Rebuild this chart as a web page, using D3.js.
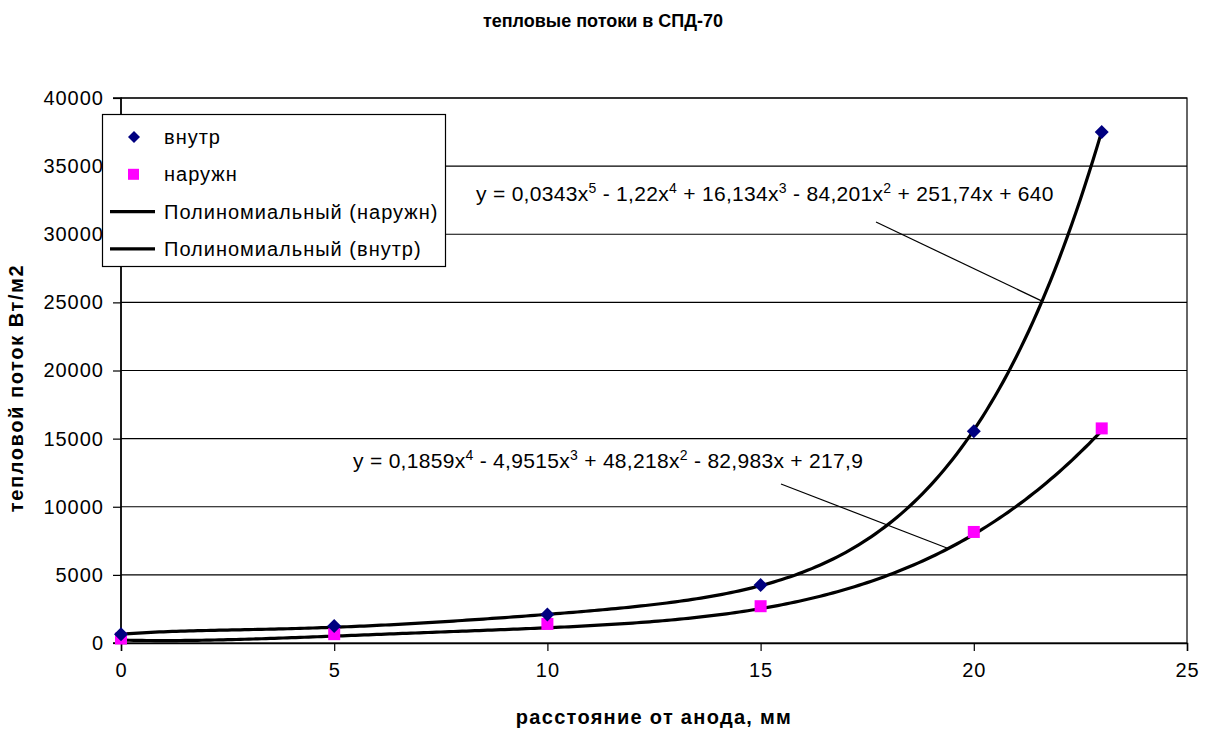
<!DOCTYPE html>
<html><head><meta charset="utf-8">
<script src="https://cdn.jsdelivr.net/npm/d3@7"></script>
<style>body{margin:0;background:#fff}svg{display:block}text{font-family:"Liberation Sans",Arial,sans-serif}</style>
</head><body><svg id="c" width="1206" height="729"></svg>
<script>
const xValues = [0, 5, 10, 15, 20, 23];
const innerValues = [650, 1250, 2100, 4250, 15550, 37500];
const outerValues = [330, 650, 1400, 2700, 8150, 15750];
const xTicks = [0, 5, 10, 15, 20, 25];
const yTicks = [0, 5000, 10000, 15000, 20000, 25000, 30000, 35000, 40000];
// trendline coefficients as shown on the chart (constant term first)
const innerCoef = [640, 251.74, -84.201, 16.134, -1.22, 0.0343];
const outerCoef = [217.9, -82.983, 48.218, -4.9515, 0.1859];
const title = "тепловые потоки в СПД-70";
const xTitle = "расстояние от анода, мм";
const yTitle = "тепловой поток Вт/м2";

const svg = d3.select("#c");
const L = 121, R = 1187, T = 98, B = 643;
const x = d3.scaleLinear().domain([0, 25]).range([L, R]);
const y = d3.scaleLinear().domain([0, 40000]).range([B, T]);

// gridlines
svg.append("g").selectAll("line").data(yTicks.filter(d => d > 0)).join("line")
  .attr("x1", L).attr("x2", R).attr("y1", d => y(d)).attr("y2", d => y(d))
  .attr("stroke", "#000").attr("stroke-width", 1.2);
svg.append("rect").attr("x", L).attr("y", T).attr("width", R - L).attr("height", B - T)
  .attr("fill", "none").attr("stroke", "#000").attr("stroke-width", 1.2);

// axes
const xAxis = svg.append("g").attr("transform", `translate(0,${B})`)
  .call(d3.axisBottom(x).tickValues(xTicks).tickSize(8).tickPadding(12).tickFormat(d3.format("d")));
const yAxis = svg.append("g").attr("transform", `translate(${L},0)`)
  .call(d3.axisLeft(y).tickValues(yTicks).tickSize(8).tickPadding(9).tickFormat(d3.format("d")));
[xAxis, yAxis].forEach(g => {
  g.select(".domain").attr("stroke", "#000").attr("stroke-width", 1.5);
  g.selectAll(".tick line").attr("stroke", "#000").attr("stroke-width", 1.2);
  g.selectAll("text").attr("font-size", 20).attr("letter-spacing", 1).attr("fill", "#000")
    .style("font-family", "'Liberation Sans', Arial, sans-serif");
});
yAxis.select(".domain").attr("d", `M-8,${T}H0V${B}H-8`);

// trendlines
function poly(c, v) { return c.reduce((s, a, i) => s + a * Math.pow(v, i), 0); }
const xs = d3.range(0, 23.001, 0.1);
const line = d3.line().x(d => x(d[0])).y(d => y(d[1]));
[innerCoef, outerCoef].forEach(c => {
  svg.append("path").attr("d", line(xs.map(v => [v, poly(c, v)])))
    .attr("fill", "none").attr("stroke", "#000").attr("stroke-width", 3.2);
});

// markers
svg.append("g").selectAll("rect").data(xValues.map((v, i) => [v, outerValues[i]])).join("rect")
  .attr("x", d => x(d[0]) - 6).attr("y", d => y(d[1]) - 6).attr("width", 12).attr("height", 12)
  .attr("fill", "#FF00FF");
svg.append("g").selectAll("path").data(xValues.map((v, i) => [v, innerValues[i]])).join("path")
  .attr("d", "M0,-7L7,0L0,7L-7,0Z")
  .attr("transform", d => `translate(${x(d[0])},${y(d[1])})`).attr("fill", "#000080");

// equations with leader lines
function eq(g, parts, xx, yy) {
  const t = g.append("text").attr("x", xx).attr("y", yy).attr("font-size", 21)
    .attr("letter-spacing", 0.3).attr("fill", "#000");
  parts.forEach(p => {
    if (p.sup) t.append("tspan").attr("dy", -8).attr("font-size", 14).text(p.sup);
    else t.append("tspan").attr("dy", p.after ? 8 : 0).text(p.t);
  });
}
const eqG = svg.append("g");
eqG.append("line").attr("x1", 876).attr("y1", 222).attr("x2", x(21.6)).attr("y2", y(poly(innerCoef, 21.6)))
  .attr("stroke", "#000").attr("stroke-width", 1.2);
eqG.append("line").attr("x1", 781).attr("y1", 484).attr("x2", x(19.4)).attr("y2", y(poly(outerCoef, 19.4)))
  .attr("stroke", "#000").attr("stroke-width", 1.2);
eq(eqG, [{t: "y = 0,0343x"}, {sup: "5"}, {t: " - 1,22x", after: 1}, {sup: "4"}, {t: " + 16,134x", after: 1}, {sup: "3"},
  {t: " - 84,201x", after: 1}, {sup: "2"}, {t: " + 251,74x + 640", after: 1}], 476, 201);
eq(eqG, [{t: "y = 0,1859x"}, {sup: "4"}, {t: " - 4,9515x", after: 1}, {sup: "3"}, {t: " + 48,218x", after: 1}, {sup: "2"},
  {t: " - 82,983x + 217,9", after: 1}], 353, 468);

// legend
const lg = svg.append("g");
lg.append("rect").attr("x", 102.5).attr("y", 114.5).attr("width", 343).attr("height", 152)
  .attr("fill", "#fff").attr("stroke", "#000").attr("stroke-width", 1.2);
const items = [
  {name: "внутр", type: "diamond"},
  {name: "наружн", type: "square"},
  {name: "Полиномиальный (наружн)", type: "line"},
  {name: "Полиномиальный (внутр)", type: "line"}];
items.forEach((it, i) => {
  const cy = 137 + i * 37.3;
  if (it.type === "diamond") lg.append("path").attr("d", "M0,-6L6,0L0,6L-6,0Z")
    .attr("transform", `translate(134,${cy})`).attr("fill", "#000080");
  else if (it.type === "square") lg.append("rect").attr("x", 128).attr("y", cy - 5.5).attr("width", 11).attr("height", 11).attr("fill", "#FF00FF");
  else lg.append("line").attr("x1", 110).attr("x2", 155).attr("y1", cy).attr("y2", cy).attr("stroke", "#000").attr("stroke-width", 3.2);
  lg.append("text").attr("x", 164).attr("y", cy).attr("dy", "0.35em").attr("font-size", 20)
    .attr("letter-spacing", 1.0).text(it.name);
});

// titles
svg.append("text").attr("x", 603).attr("y", 27).attr("text-anchor", "middle")
  .attr("font-size", 18).attr("font-weight", "bold").text(title);
svg.append("text").attr("x", 654).attr("y", 724).attr("text-anchor", "middle")
  .attr("font-size", 20).attr("letter-spacing", 1.3).attr("font-weight", "bold").text(xTitle);
svg.append("text").attr("transform", "translate(23,388) rotate(-90)").attr("text-anchor", "middle")
  .attr("font-size", 20).attr("letter-spacing", 1.6).attr("font-weight", "bold").text(yTitle);
</script></body></html>
